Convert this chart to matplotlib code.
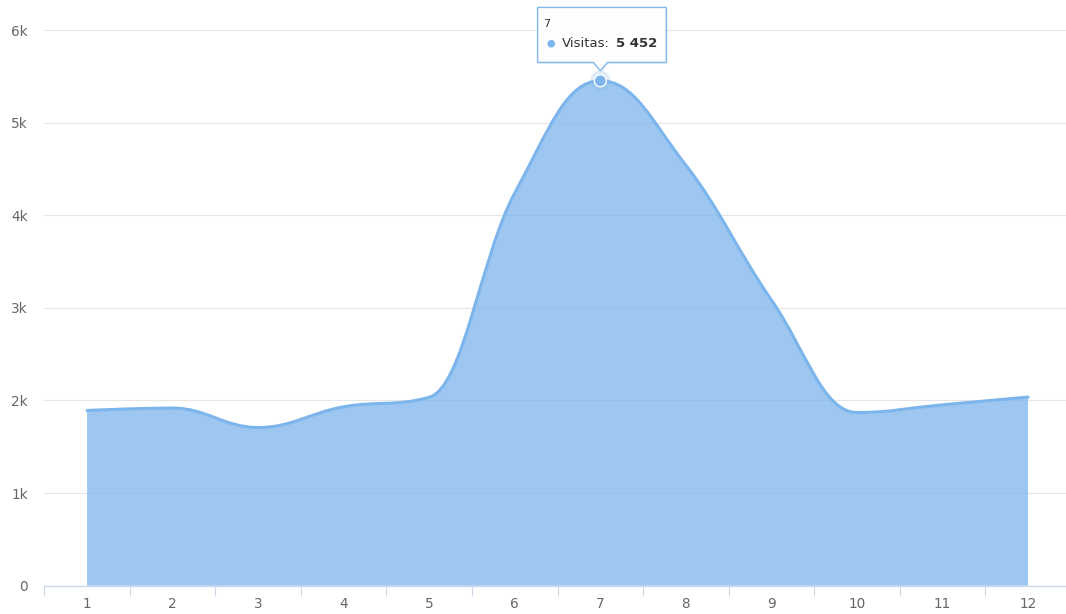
"""Monthly visits area-spline chart."""

import matplotlib

matplotlib.use("Agg")
import matplotlib.pyplot as plt
from matplotlib import transforms
from matplotlib.patches import Circle, PathPatch, Polygon
from matplotlib.path import Path

months = [1, 2, 3, 4, 5, 6, 7, 8, 9, 10, 11, 12]
visits = [1892, 1918, 1708, 1932, 2035, 4240, 5452, 4540, 3085, 1870, 1953, 2037]
y_ticks = [0, 1000, 2000, 3000, 4000, 5000, 6000]
y_tick_labels = ["0", "1k", "2k", "3k", "4k", "5k", "6k"]

tooltip_month = 7
tooltip_label = "Visitas:"
tooltip_value = "5 452"

BLUE = "#7cb5ec"
TEXT = "#666666"


def spline_controls(xs, ys, smoothing=1.5):
    """Control points in the Highcharts spline style (passes through data)."""
    n = len(xs)
    left = [(xs[i], ys[i]) for i in range(n)]
    right = [(xs[i], ys[i]) for i in range(n)]
    denom = smoothing + 1
    for i in range(1, n - 1):
        x, y = xs[i], ys[i]
        lx, ly = xs[i - 1], ys[i - 1]
        nx, ny = xs[i + 1], ys[i + 1]
        lcx = (smoothing * x + lx) / denom
        lcy = (smoothing * y + ly) / denom
        rcx = (smoothing * x + nx) / denom
        rcy = (smoothing * y + ny) / denom
        corr = (rcy - lcy) * (rcx - x) / (rcx - lcx) + y - rcy
        lcy += corr
        rcy += corr
        if lcy > ly and lcy > y:
            lcy = max(ly, y)
            rcy = 2 * y - lcy
        elif lcy < ly and lcy < y:
            lcy = min(ly, y)
            rcy = 2 * y - lcy
        if rcy > ny and rcy > y:
            rcy = max(ny, y)
            lcy = 2 * y - rcy
        elif rcy < ny and rcy < y:
            rcy = min(ny, y)
            lcy = 2 * y - rcy
        left[i] = (lcx, lcy)
        right[i] = (rcx, rcy)
    verts = [(xs[0], ys[0])]
    codes = [Path.MOVETO]
    for i in range(1, n):
        verts += [right[i - 1], left[i], (xs[i], ys[i])]
        codes += [Path.CURVE4] * 3
    return verts, codes


W, H = 1066, 614
fig = plt.figure(figsize=(W / 100, H / 100), dpi=100)
x0, x1 = 44.3, 1070.8
y_bot, y_top = 585.7, 30.0
ax = fig.add_axes([x0 / W, (H - y_bot) / H, (x1 - x0) / W, (y_bot - y_top) / H])
ax.set_xlim(0.5, 12.5)
ax.set_ylim(0, 6000)

for s in ["top", "right", "left"]:
    ax.spines[s].set_visible(False)
ax.spines["bottom"].set_color("#ccd6eb")
ax.spines["bottom"].set_linewidth(1)
ax.spines["bottom"].set_zorder(5)

ax.set_yticks(y_ticks)
ax.set_yticklabels(y_tick_labels)
ax.tick_params(axis="y", length=0, pad=11.7, labelsize=9.8, labelcolor=TEXT)
ax.set_xticks(months)
ax.set_xticklabels([str(m) for m in months])
ax.tick_params(axis="x", which="major", length=0, pad=8, labelsize=9.8, labelcolor=TEXT)
ax.set_xticks([m - 0.5 for m in months] + [12.5], minor=True)
ax.tick_params(axis="x", which="minor", length=7.5, width=0.8, color="#ccd6eb")

for t in y_ticks[1:]:
    ax.axhline(t, color="#e6e6e6", lw=0.8, zorder=0, clip_on=False)

verts, codes = spline_controls(months, visits)
line = Path(verts, codes)
fill = Path([(months[0], 0)] + verts + [(months[-1], 0), (months[0], 0)],
            [Path.MOVETO, Path.LINETO] + codes[1:] + [Path.LINETO, Path.CLOSEPOLY])
ax.add_patch(PathPatch(fill, facecolor=BLUE, alpha=0.75, edgecolor="none", zorder=2))
ax.add_patch(PathPatch(line, facecolor="none", edgecolor=BLUE, lw=2.2,
                       capstyle="round", joinstyle="round", zorder=3))

# hovered point + tooltip (offsets in pixels from the point)
py = visits[months.index(tooltip_month)]
anchor = transforms.ScaledTranslation(tooltip_month, py, ax.transData)
pix = transforms.IdentityTransform() + anchor

ax.add_patch(Circle((0, 0), 10, transform=pix, facecolor=BLUE, alpha=0.25,
                    edgecolor="none", zorder=6, clip_on=False))
ax.add_patch(Circle((0, 0), 6, transform=pix, facecolor=BLUE, edgecolor="white",
                    lw=1, zorder=7, clip_on=False))

# soft shadow, then the box itself
shadow = [(x + 1.5, y - 1.5) for x, y in
          [(-62.7, 73.3), (66, 73.3), (66, 18.3), (7, 18.3), (0, 10),
           (-7, 18.3), (-62.7, 18.3)]]
ax.add_patch(Polygon(shadow, closed=True, transform=pix, facecolor="#000000",
                     edgecolor="none", alpha=0.06, zorder=8, clip_on=False))
box = [(-62.7, 73.3), (66, 73.3), (66, 18.3), (7, 18.3), (0, 10),
       (-7, 18.3), (-62.7, 18.3)]
ax.add_patch(Polygon(box, closed=True, transform=pix, facecolor="white",
                     edgecolor=BLUE, lw=1, alpha=0.97, zorder=8.5, clip_on=False))
ax.text(-57, 57, str(tooltip_month), transform=pix, fontsize=8, color="#333333",
        ha="left", va="center", zorder=9)
ax.add_patch(Circle((-49, 37), 3.8, transform=pix, facecolor=BLUE,
                    edgecolor="none", zorder=9, clip_on=False))
ax.text(-38.5, 37, tooltip_label, transform=pix, fontsize=9.5, color="#333333",
        ha="left", va="center", zorder=9)
ax.text(16, 37, tooltip_value, transform=pix, fontsize=9.5, color="#333333",
        fontweight="bold", ha="left", va="center", zorder=9)

fig.savefig("out.png", dpi=100)
plt.close(fig)
